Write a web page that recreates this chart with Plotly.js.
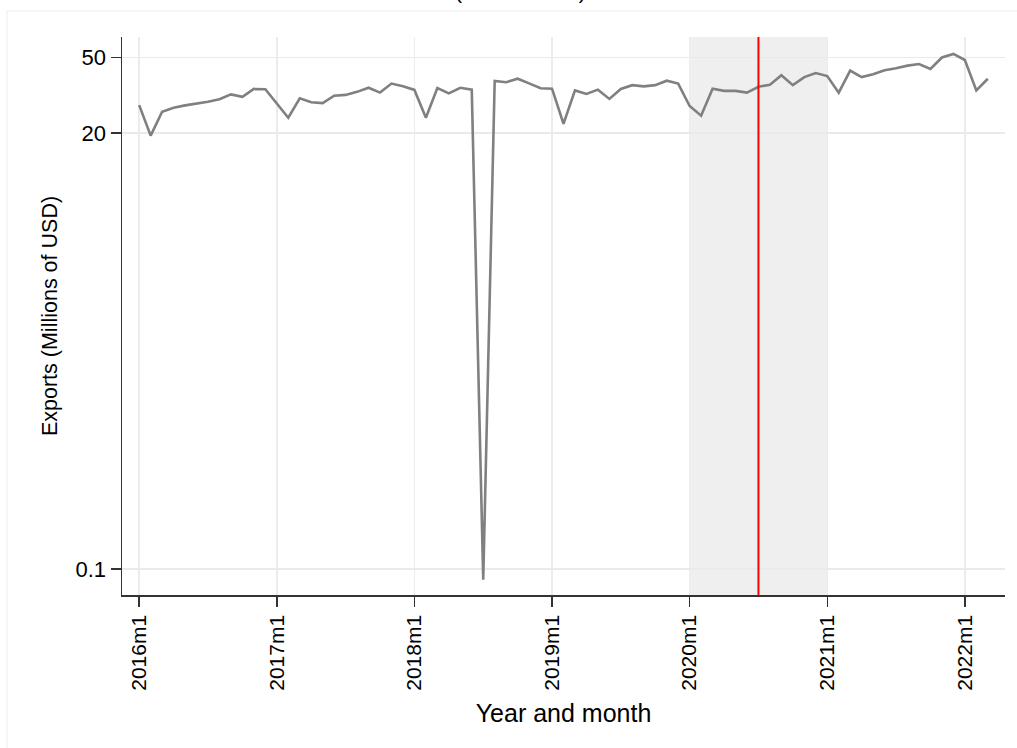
<!DOCTYPE html>
<html>
<head>
<meta charset="utf-8">
<script src="https://cdn.plot.ly/plotly-3.0.1.min.js"></script>
<style>html,body{margin:0;padding:0;background:#fff;}#chart{width:1017px;height:748px;}</style>
</head>
<body>
<div id="chart"></div>
<script>
// Month index 0 = 2016m1 ... 74 = 2022m3
const months = Array.from({length: 75}, (_, i) => i);
const exportsUSD = [
  28.1, 19.4, 25.9, 27.2, 28.0, 28.6, 29.3, 30.2, 32.0, 31.1, 34.2, 34.1,
  28.5, 24.1, 30.5, 29.1, 28.8, 31.5, 31.8, 33.0, 34.7, 32.7, 36.5, 35.3,
  33.8, 24.1, 34.6, 32.4, 34.7, 33.9, 0.088, 37.7, 37.1, 38.7, 36.6, 34.5,
  34.3, 22.4, 33.6, 32.2, 33.9, 30.3, 34.2, 35.8, 35.3, 35.8, 37.8, 36.5,
  27.8, 24.7, 34.3, 33.4, 33.4, 32.7, 35.1, 36.0, 40.4, 35.8, 39.5, 41.5,
  40.0, 32.7, 42.7, 39.5, 40.9, 42.9, 44.0, 45.4, 46.3, 43.6, 50.1, 52.3,
  48.6, 33.6, 38.7
];
const xTickVals = [0, 12, 24, 36, 48, 60, 72];
const xTickText = ["2016m1", "2017m1", "2018m1", "2019m1", "2020m1", "2021m1", "2022m1"];
const yTickVals = [0.1, 20, 50];
const yTickText = ["0.1", "20", "50"];
const shadeStart = 48;   // 2020m1
const shadeEnd = 60;     // 2021m1
const eventMonth = 54;   // 2020m7

const FONT = "Arial, 'Liberation Sans', sans-serif";

const trace = {
  x: months,
  y: exportsUSD,
  type: "scatter",
  mode: "lines",
  line: {color: "#808080", width: 2.6},
  hoverinfo: "skip"
};

const layout = {
  width: 1017,
  height: 748,
  margin: {l: 122, r: 12, t: 37, b: 153},
  paper_bgcolor: "#ffffff",
  plot_bgcolor: "#ffffff",
  showlegend: false,
  font: {family: FONT, size: 21, color: "#000"},
  xaxis: {
    range: [-1.5, 75.5],
    tickvals: xTickVals,
    ticktext: xTickText,
    tickangle: -90,
    ticks: "outside",
    ticklen: 10,
    tickwidth: 1.5,
    tickcolor: "#333",
    showline: true,
    linecolor: "#333",
    linewidth: 1.5,
    showgrid: true,
    gridcolor: "#ececec",
    gridwidth: 1.5,
    zeroline: false,
    tickfont: {family: FONT, size: 21, color: "#000"},
    title: {text: "Year and month", font: {family: FONT, size: 25, color: "#000"}, standoff: 14}
  },
  yaxis: {
    type: "log",
    range: [-1.136, 1.808],
    tickvals: yTickVals,
    ticktext: yTickText,
    ticks: "outside",
    ticklen: 10,
    tickwidth: 1.5,
    tickcolor: "#333",
    showline: true,
    linecolor: "#333",
    linewidth: 1.5,
    showgrid: true,
    gridcolor: "#e4ecef",
    gridwidth: 1.5,
    zeroline: false,
    tickfont: {family: FONT, size: 22, color: "#000"},
    title: {text: "Exports (Millions of USD)", font: {family: FONT, size: 21.5, color: "#000"}, standoff: 12}
  },
  shapes: [
    {type: "rect", xref: "x", yref: "paper", x0: shadeStart, x1: shadeEnd, y0: 0, y1: 1,
     fillcolor: "#efefef", line: {width: 0}, layer: "below"},
    {type: "line", xref: "x", yref: "paper", x0: eventMonth, x1: eventMonth, y0: 0, y1: 1,
     line: {color: "#ff0000", width: 2}, layer: "above"},
    {type: "rect", xref: "paper", yref: "paper", x0: -0.1302, x1: 1.03, y0: -0.32, y1: 1.0466,
     fillcolor: "rgba(0,0,0,0)", line: {color: "#eeeeee", width: 1}, layer: "below"}
  ],
  annotations: [
    {xref: "paper", yref: "paper", x: -0.1302 + (520 - 7) / 883, y: 1.0573, xanchor: "center", yanchor: "bottom",
     text: "(" + "\u00a0".repeat(20) + ")", showarrow: false, font: {family: FONT, size: 21, color: "#000"}}
  ]
};

Plotly.newPlot("chart", [trace], layout, {displayModeBar: false, staticPlot: true});
</script>
</body>
</html>
